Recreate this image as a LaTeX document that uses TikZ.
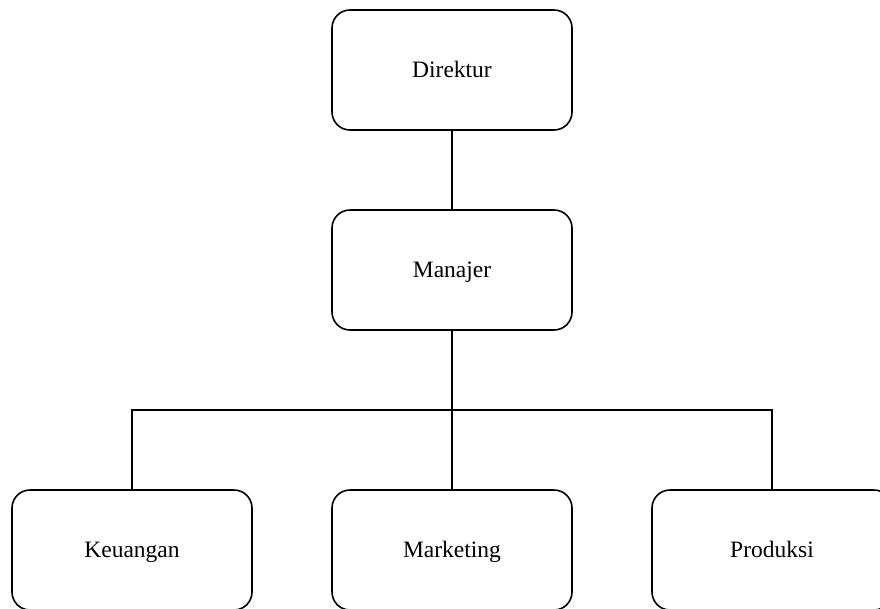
\documentclass[tikz,border=0pt]{standalone}
\usepackage{fontspec}
\setmainfont{Liberation Serif}
\begin{document}
\begin{tikzpicture}[x=1pt,y=-1pt,
  unitbox/.style={draw=black, line width=1.6pt, rounded corners=18pt, minimum width=240pt, minimum height=120pt, inner sep=0pt, text height=18pt, text depth=3pt, font=\fontsize{23.5}{28}\selectfont, fill=white},
  link/.style={draw=black, line width=1.4pt}]
\useasboundingbox (0,0) rectangle (880,608);
\clip (0,0) rectangle (880,608);
\node[unitbox] (dir) at (452,70) {Direktur};
\node[unitbox] (man) at (452,270) {Manajer};
\node[unitbox] (keu) at (132,550) {Keuangan};
\node[unitbox] (mar) at (452,550) {Marketing};
\node[unitbox] (pro) at (772,550) {Produksi};
\coordinate (bus) at (452,410);
\draw[link] (dir.south) -- (man.north);
\draw[link] (man.south) -- (mar.north);
\draw[link] (keu.north) |- (bus) -| (pro.north);
\end{tikzpicture}
\end{document}
